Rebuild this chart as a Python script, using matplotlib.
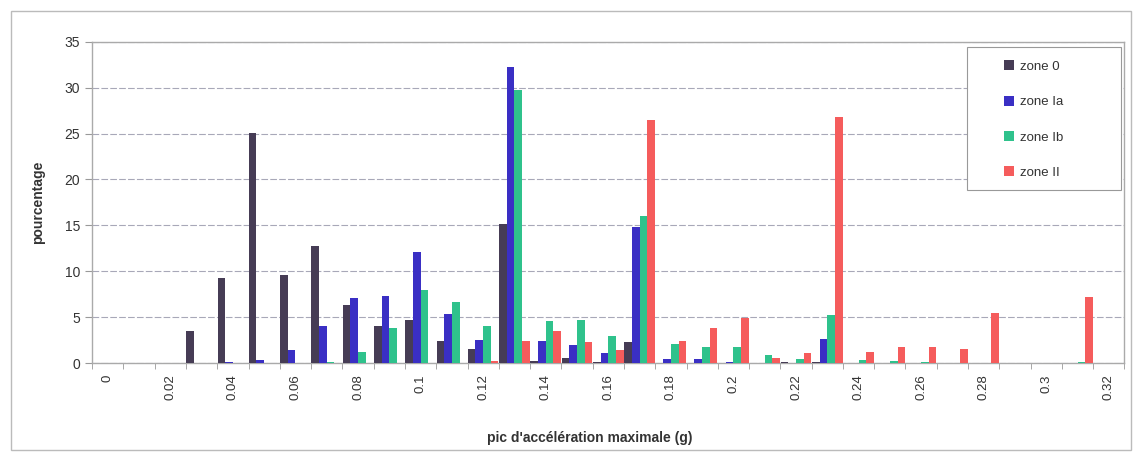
import numpy as np
import matplotlib
matplotlib.use("Agg")
import matplotlib.pyplot as plt
from matplotlib.ticker import FixedLocator

plt.rcParams['font.family'] = ['Liberation Sans', 'DejaVu Sans']

# categories: peak acceleration bins (g)
categories = ["0", "0.01", "0.02", "0.03", "0.04", "0.05", "0.06", "0.07", "0.08", "0.09",
              "0.1", "0.11", "0.12", "0.13", "0.14", "0.15", "0.16", "0.17", "0.18", "0.19",
              "0.2", "0.21", "0.22", "0.23", "0.24", "0.25", "0.26", "0.27", "0.28", "0.29",
              "0.3", "0.31", "0.32"]

zone_0 = [0, 0, 0, 3.5, 9.3, 25.1, 9.6, 12.7, 6.3, 4.0,
          4.7, 2.4, 1.5, 15.1, 0.2, 0.5, 0.1, 2.3, 0, 0,
          0, 0, 0.1, 0.1, 0, 0, 0, 0, 0, 0,
          0, 0, 0]
zone_Ia = [0, 0, 0, 0, 0.1, 0.3, 1.4, 4.0, 7.1, 7.3,
           12.1, 5.3, 2.5, 32.3, 2.4, 2.0, 1.1, 14.8, 0.4, 0.45,
           0.1, 0, 0, 2.6, 0, 0, 0, 0, 0, 0,
           0, 0, 0]
zone_Ib = [0, 0, 0, 0, 0, 0, 0, 0.1, 1.2, 3.8,
           8.0, 6.7, 4.0, 29.7, 4.6, 4.7, 2.9, 16.0, 2.1, 1.8,
           1.8, 0.9, 0.4, 5.2, 0.3, 0.2, 0.1, 0.05, 0, 0,
           0, 0.1, 0]
zone_II = [0, 0, 0, 0, 0, 0, 0, 0, 0, 0,
           0, 0, 0.2, 2.4, 3.5, 2.3, 1.4, 26.5, 2.4, 3.8,
           4.9, 0.6, 1.1, 26.8, 1.2, 1.8, 1.8, 1.5, 5.5, 0,
           0, 7.2, 0]

series_names = ["zone 0", "zone Ia", "zone Ib", "zone II"]
colors = ["#463c55", "#3a2fc4", "#2fc28c", "#f55c5c"]

fig = plt.figure(figsize=(11.37, 4.59), dpi=100)
ax = fig.add_axes([0.081, 0.209, 0.908, 0.70])

x = np.arange(len(categories))
w = 0.245
for k, (vals, name, c) in enumerate(zip([zone_0, zone_Ia, zone_Ib, zone_II], series_names, colors)):
    ax.bar(x + (k - 1.5) * w, vals, width=w, color=c, label=name, zorder=3, linewidth=0)

ax.set_xlim(-0.5, len(categories) - 0.5)
ax.set_ylim(0, 35)
ax.set_yticks(np.arange(0, 36, 5))
ax.yaxis.grid(True, color="#a8a8b8", linewidth=0.8, linestyle=(0, (6, 2)), zorder=0)

# labels every other category, tick marks between categories
ax.set_xticks(x[::2])
ax.set_xticklabels(categories[::2], rotation=90)
ax.tick_params(axis='x', which='major', length=0, pad=8)
ax.xaxis.set_minor_locator(FixedLocator(np.arange(-0.5, len(categories), 1)))
ax.tick_params(axis='x', which='minor', length=4, color="#999999")
ax.tick_params(axis='y', length=5, color="#999999", labelsize=10, labelcolor="#333333")
ax.tick_params(axis='x', labelsize=9.5, labelcolor="#333333")

for side in ["top", "right", "bottom", "left"]:
    ax.spines[side].set_color("#aaaaaa")
    ax.spines[side].set_linewidth(1.0)

ax.set_xlabel("pic d'accélération maximale (g)", fontsize=10, fontweight="bold", color="#333333")
ax.xaxis.set_label_coords(0.482, -0.212)
ax.set_ylabel("pourcentage", fontsize=10, fontweight="bold", color="#333333", labelpad=14)

# legend box drawn separately, entries placed inside it
ax.add_patch(plt.Rectangle((0.847, 0.538), 0.150, 0.445, transform=ax.transAxes,
                           facecolor="white", edgecolor="#999999", linewidth=0.8, zorder=4))
leg = ax.legend(loc="upper left", bbox_to_anchor=(0.883, 0.942), fontsize=9.5, labelspacing=1.72,
                handlelength=0.8, handleheight=0.8, handletextpad=0.4, borderpad=0.0,
                frameon=False, borderaxespad=0.0)
leg.set_zorder(5)
for t in leg.get_texts():
    t.set_color("#333333")

# outer frame of the chart
fig.patches.append(plt.Rectangle((0.01, 0.02), 0.985, 0.955, transform=fig.transFigure,
                                 fill=False, edgecolor="#bbbbbb", linewidth=1.0))

fig.savefig("out.png", dpi=100)
